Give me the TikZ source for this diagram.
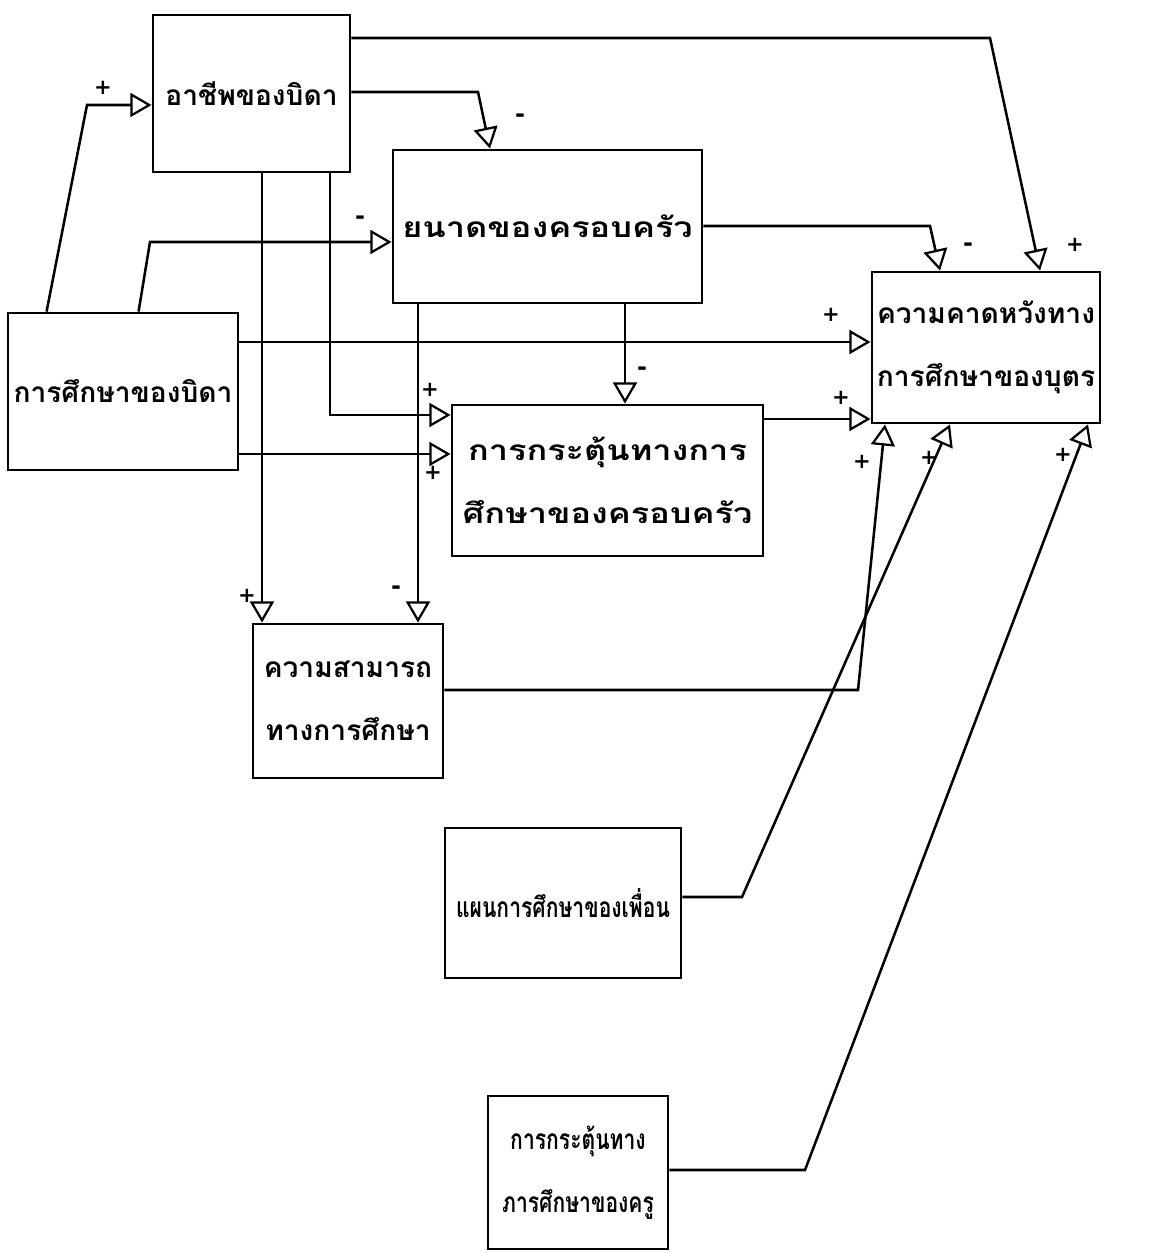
\documentclass[tikz,border=0pt]{standalone}
\usepackage{fontspec}
\newfontfamily\thai[Script=Thai]{Loma}
\newfontfamily\thaiwide[Script=Thai,FakeStretch=1.22]{Loma}
\newfontfamily\thainarrow[Script=Thai,FakeStretch=0.75]{Loma}
\newfontfamily\signfont{DejaVu Sans}
\usetikzlibrary{arrows.meta,calc}
\begin{document}
\begin{tikzpicture}[x=0.025cm,y=-0.025cm,
  box/.style={draw,line width=2pt,inner sep=0pt,align=center,
    font=\thai\bfseries\fontsize{20}{45}\selectfont},
  wide/.style={font=\thaiwide\bfseries\fontsize{20}{45}\selectfont},
  narrow/.style={font=\thainarrow\bfseries\fontsize{20}{45}\selectfont},
  conn/.style={line width=1.8pt,-{Triangle[open,length=15pt,width=17pt,line width=1.6pt]}},
  plus/.style={font=\signfont\bfseries\fontsize{15}{15}\selectfont,inner sep=0pt},
  minus/.style={font=\signfont\bfseries\fontsize{17}{17}\selectfont,inner sep=0pt}]
\fill[white] (0,0) rectangle (1156,1253);
\useasboundingbox (0,0) rectangle (1156,1253);
% boxes
\node[box,minimum width=4.925cm,minimum height=3.925cm] (occ) at (251.5,93.5) {อาชีพของบิดา};
\node[box,wide,minimum width=7.725cm,minimum height=3.825cm] (size) at (547.5,226.5) {ยนาดของครอบครัว};
\node[box,minimum width=5.75cm,minimum height=3.925cm] (fedu) at (123,391.5) {การศึกษาของบิดา};
\node[box,wide,minimum width=7.775cm,minimum height=3.775cm] (fstim) at (607.5,480.5) {การกระตุ้นทางการ\\ศึกษาของครอบครัว};
\node[box,minimum width=5.7cm,minimum height=3.775cm] (exp) at (986,347.5) {ความคาดหวังทาง\\การศึกษาของบุตร};
\node[box,minimum width=4.75cm,minimum height=3.85cm] (ability) at (348,701) {ความสามารถ\\ทางการศึกษา};
\node[box,narrow,minimum width=5.9cm,minimum height=3.75cm] (peer) at (563,903) {แผนการศึกษาของเพื่อน};
\node[box,narrow,minimum width=4.5cm,minimum height=3.825cm] (teacher) at (578,1172.5) {การกระตุ้นทาง\\ภารศึกษาของครู};
% bend coordinates
\coordinate (a1) at (87,105);
\coordinate (b1) at (990,38);
\coordinate (b2) at (1040,0);
\coordinate (c1) at (478,92);
\coordinate (c2) at (490,0);
\coordinate (d1) at (150,242);
\coordinate (e1) at (930,226);
\coordinate (e2) at (940,0);
\coordinate (f1) at (0,342);
\coordinate (g1) at (625,0);
\coordinate (h1) at (330,415);
\coordinate (i1) at (0,454);
\coordinate (j1) at (262,0);
\coordinate (k1) at (418,0);
\coordinate (l1) at (0,419);
\coordinate (m1) at (858,690);
\coordinate (m2) at (885,0);
\coordinate (n1) at (742,897);
\coordinate (n2) at (950,0);
\coordinate (o1) at (805,1170);
\coordinate (o2) at (1088,0);
% connectors
\draw[conn] ($(fedu.north west)+(40,0)$) -- (a1) -- (a1 -| occ.west);
\draw[conn] (b1 -| occ.east) -- (b1) -- (exp.north -| b2);
\draw[conn] (c1 -| occ.east) -- (c1) -- (size.north -| c2);
\draw[conn] ($(fedu.north west)+(132,0)$) -- (d1) -- (d1 -| size.west);
\draw[conn] (e1 -| size.east) -- (e1) -- (exp.north -| e2);
\draw[conn] (f1 -| fedu.east) -- (f1 -| exp.west);
\draw[conn] (size.south -| g1) -- (fstim.north -| g1);
\draw[conn] (occ.south -| h1) -- (h1) -- (h1 -| fstim.west);
\draw[conn] (i1 -| fedu.east) -- (i1 -| fstim.west);
\draw[conn] (occ.south -| j1) -- (ability.north -| j1);
\draw[conn] (size.south -| k1) -- (ability.north -| k1);
\draw[conn] (l1 -| fstim.east) -- (l1 -| exp.west);
\draw[conn] (m1 -| ability.east) -- (m1) -- (exp.south -| m2);
\draw[conn] (n1 -| peer.east) -- (n1) -- (exp.south -| n2);
\draw[conn] (o1 -| teacher.east) -- (o1) -- (exp.south -| o2);
% signs
\node[plus] (sa) at (103,88) {+};
\node[plus] (sb) at (1075,245) {+};
\node[minus] (sc) at (520,118) {-};
\node[minus] (sd) at (360,220) {-};
\node[minus] (se) at (968,247) {-};
\node[plus] (sf) at (831,315) {+};
\node[minus] (sg) at (642,371) {-};
\node[plus] (sh) at (430,390) {+};
\node[plus] (si) at (433,473) {+};
\node[plus] (sj) at (247,596) {+};
\node[minus] (sk) at (396,590) {-};
\node[plus] (sl) at (841,398) {+};
\node[plus] (sm) at (862,462) {+};
\node[plus] (sn) at (929,458) {+};
\node[plus] (so) at (1063,455) {+};
\end{tikzpicture}
\end{document}
